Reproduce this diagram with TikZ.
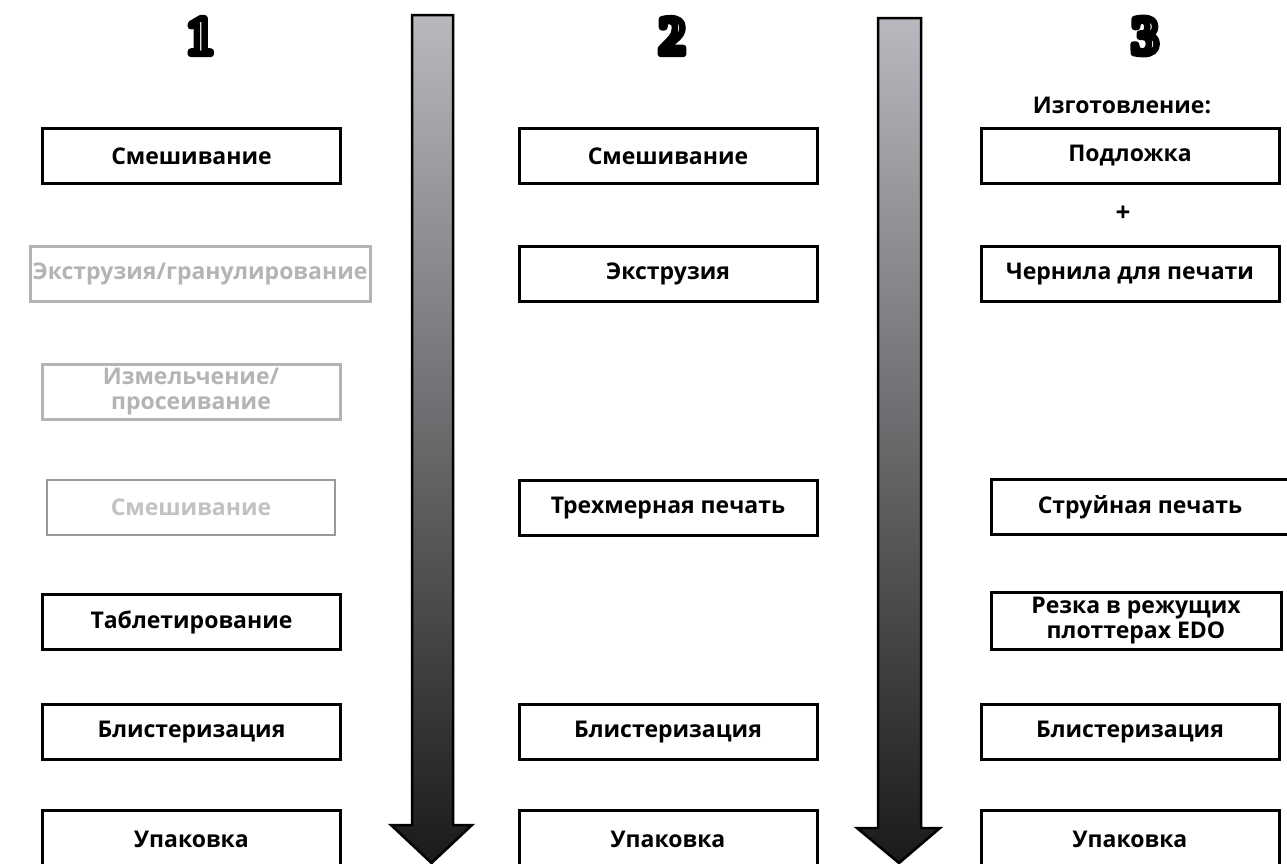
\documentclass[tikz,border=0pt]{standalone}
\usepackage{fontspec}
\setmainfont{Open Sans}
\newfontfamily\stagefont{Open Sans}
\newfontfamily\digitfont{Liberation Serif}
\usetikzlibrary{calc}
\definecolor{FadeGray}{HTML}{B4B4B4}
\definecolor{PaleGray}{HTML}{9A9A9A}
\definecolor{PaleText}{HTML}{C2C2C2}
\definecolor{ArrowTop}{HTML}{B8B8BE}
\definecolor{ArrowBottom}{HTML}{1C1919}
% outlined digit: white fill, thick black stroke
\newcommand{\outlinedigit}[1]{\special{pdf:literal 0 G 1 g 6.5 w 1 j 2 Tr}#1\special{pdf:literal 0 Tr}}
\tikzset{
    % Process step box
    stagebox/.style={
        draw=black,
        fill=white,
        line width=3pt,
        minimum width=298pt,
        minimum height=55pt,
        inner sep=1pt,
        align=center,
        font=\stagefont\bfseries\fontsize{23}{25}\selectfont
    },
    % Faded step box
    fadebox/.style={
        stagebox,
        draw=FadeGray,
        text=FadeGray
    },
    % Pale step box
    palebox/.style={
        stagebox,
        line width=1.2pt,
        draw=PaleGray,
        text=PaleText
    },
    % Plain label
    plainlabel/.style={
        inner sep=0pt,
        font=\stagefont\bfseries\fontsize{23}{25}\selectfont
    },
    % Column digits
    digitnode/.style={
        inner sep=0pt,
        text=white,
        font=\digitfont\bfseries\fontsize{54}{54}\selectfont
    },
    % Big flow arrow
    flowarrow/.style={
        draw=black,
        line width=2.5pt,
        line join=miter,
        top color=ArrowTop,
        bottom color=ArrowBottom
    }
}
\begin{document}
\begin{tikzpicture}[x=1pt, y=-1pt]
        \useasboundingbox (0,0) rectangle (1287,863);
        \clip (0,0) rectangle (1287,863);

        % Column numbers
        \node[digitnode] (n1) at (200,36) {\outlinedigit{1}};
        \node[digitnode] (n2) at (672,36) {\outlinedigit{2}};
        \node[digitnode] (n3) at (1145,36) {\outlinedigit{3}};

        % Flow arrows
        \shade[flowarrow] (412,15) -- (453,15) -- (453,825) -- (472,825) -- (431.5,863) -- (391,825) -- (412,825) -- cycle;
        \shade[flowarrow] (878,18) -- (921,18) -- (921,828) -- (940,828) -- (899,863) -- (857,828) -- (878,828) -- cycle;

        % Column 1
        \node[stagebox] (m1) at (191.5,156) {Смешивание};
        \node[fadebox, minimum width=340pt] (e1) at (200,274) {Экструзия/гранулирование};
        \node[fadebox] (g1) at (191,392) {Измельчение/\\просеивание};
        \node[palebox, minimum width=288pt] (s1) at (191,507.5) {Смешивание};
        \node[stagebox] (t1) at (191.5,622) {Таблетирование};
        \node[stagebox] (b1) at (191.5,732) {Блистеризация};
        \node[stagebox, minimum height=58pt] (u1) at (191.5,839) {Упаковка};

        % Column 2
        \node[stagebox] (m2) at (668,156) {Смешивание};
        \node[stagebox] (e2) at (668,274) {Экструзия};
        \node[stagebox] (p2) at (668,508) {Трехмерная печать};
        \node[stagebox] (b2) at (668,732) {Блистеризация};
        \node[stagebox, minimum height=58pt] (u2) at (668,839) {Упаковка};

        % Column 3
        \node[plainlabel] (h3) at (1122,105) {Изготовление:};
        \node[stagebox] (s3) at (1130,156) {Подложка};
        \node[plainlabel, font=\stagefont\bfseries\fontsize{26}{26}\selectfont] (plus) at (1123,214) {+};
        \node[stagebox] (i3) at (1130,274) {Чернила для печати};
        \node[stagebox] (j3) at (1140,507) {Струйная печать};
        \node[stagebox, minimum width=290pt, minimum height=57pt] (r3) at (1136,621) {Резка в режущих\\плоттерах EDO};
        \node[stagebox] (b3) at (1130,732) {Блистеризация};
        \node[stagebox, minimum height=58pt] (u3) at (1130,839) {Упаковка};
    \end{tikzpicture}
\end{document}
